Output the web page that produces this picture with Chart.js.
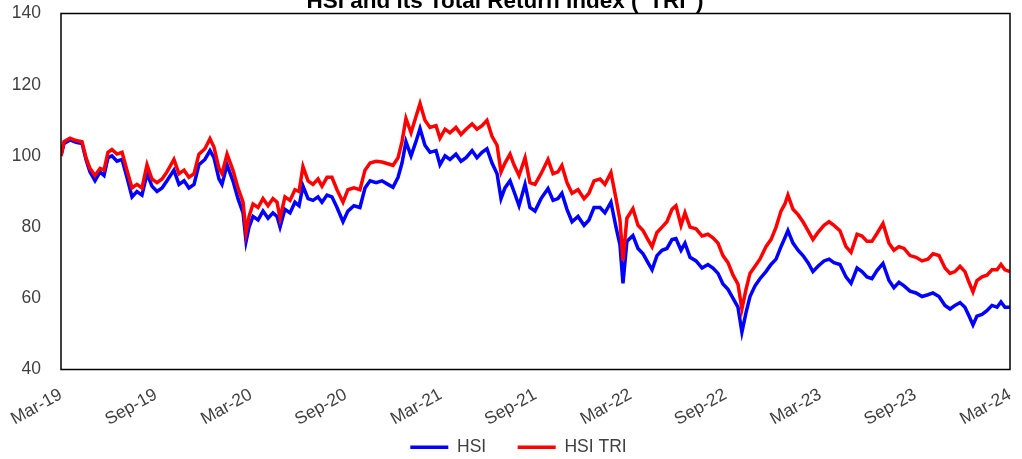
<!DOCTYPE html>
<html>
<head>
<meta charset="utf-8">
<title>HSI and its Total Return Index</title>
<script src="https://cdn.jsdelivr.net/npm/chart.js@4.4.1/dist/chart.umd.min.js"></script>
<style>
  html, body { margin: 0; padding: 0; background: #fff; overflow: hidden; }
  #wrap { position: relative; width: 1022px; height: 459px; overflow: hidden; }
  #chart { position: absolute; left: 0; top: -9px; }
</style>
</head>
<body>
<div id="wrap"><canvas id="chart" width="1022" height="475"></canvas></div>
<script>
// months since Mar-19
const monthIndex = [
  0, 0.19, 0.57, 0.95, 1.33, 1.58, 1.83, 2.15, 2.47, 2.72,
  2.97, 3.22, 3.54, 3.86, 4.17, 4.49, 4.80, 5.12, 5.44, 5.75,
  6.07, 6.39, 6.70, 7.14, 7.46, 7.78, 8.09, 8.41, 8.72, 9.10,
  9.42, 9.67, 9.99, 10.18, 10.50, 10.87, 11.19, 11.51, 11.70, 11.89,
  12.14, 12.46, 12.77, 13.09, 13.40, 13.66, 13.85, 14.16, 14.48, 14.79,
  15.05, 15.30, 15.62, 15.93, 16.25, 16.50, 16.82, 17.13, 17.45, 17.83,
  18.14, 18.52, 18.90, 19.22, 19.54, 19.92, 20.29, 20.67, 20.99, 21.31,
  21.56, 21.81, 22.13, 22.44, 22.70, 23.01, 23.33, 23.71, 23.96, 24.28,
  24.59, 24.97, 25.29, 25.61, 25.99, 26.30, 26.62, 26.93, 27.25, 27.57,
  27.82, 28.07, 28.39, 28.64, 28.96, 29.34, 29.65, 29.97, 30.35, 30.79,
  31.11, 31.42, 31.67, 31.99, 32.31, 32.69, 33.07, 33.38, 33.70, 34.08,
  34.39, 34.77, 35.09, 35.34, 35.53, 35.78, 36.16, 36.48, 36.80, 37.11,
  37.37, 37.68, 38.00, 38.31, 38.63, 38.88, 39.20, 39.45, 39.77, 40.15,
  40.53, 40.90, 41.22, 41.54, 41.85, 42.17, 42.49, 42.80, 43.05, 43.31,
  43.56, 43.88, 44.19, 44.57, 44.89, 45.21, 45.52, 45.77, 45.96, 46.28,
  46.60, 46.91, 47.23, 47.54, 47.86, 48.24, 48.56, 48.87, 49.25, 49.63,
  49.95, 50.33, 50.64, 50.96, 51.27, 51.59, 51.97, 52.35, 52.66, 52.98,
  53.30, 53.68, 54.06, 54.44, 54.81, 55.13, 55.51, 55.89, 56.21, 56.52,
  56.84, 57.15, 57.41, 57.66, 57.91, 58.23, 58.54, 58.86, 59.18, 59.43,
  59.68, 60.00
];

const hsiValues = [
  100, 103.5, 104.5, 103.8, 103.5, 99, 95.5, 93, 95.5, 94.5,
  99.5, 100, 98.5, 99, 94, 88.5, 90, 89, 95, 91.5,
  90, 91, 93, 96, 92, 93, 91, 92, 97.5, 99,
  101.5, 99.5, 93.5, 92, 97.5, 93, 88, 84, 76, 80,
  83, 82, 84.5, 82.5, 84, 83, 80, 85, 84, 87,
  86, 91.5, 88, 87.5, 88.5, 87, 89, 88.5, 85.5, 81.5,
  84.5, 86, 85.5, 91, 93, 92.5, 93, 92, 91.2, 94,
  98, 104, 100, 104, 107.7, 103, 101, 101.5, 97.5, 100,
  99, 100.5, 98.5, 99.5, 101.5, 99.5, 101, 102, 98, 95,
  88, 91, 93, 90, 86, 92, 85.5, 84.5, 88, 90.8,
  87.5, 88, 89.5, 85, 81.5, 83, 80.5, 82, 85.5, 85.5,
  84, 87, 80, 75, 64.2, 76, 77.6, 74, 72.5, 70,
  68, 72, 73.5, 74, 76.5, 76.8, 73.5, 75.5, 71.5, 70.5,
  68.5, 69.5, 68.5, 67, 64, 62.5, 60, 57.5, 50.5, 56,
  60.5, 63.5, 65.5, 67.5, 69.5, 71, 74.5, 77, 79, 75.5,
  73.5, 72, 70, 67.5, 69, 70.5, 71, 70, 69.5, 66,
  64.2, 68.5, 67.5, 66, 65.5, 67.8, 69.8, 65, 63, 64.5,
  63.5, 62, 61.5, 60.5, 61, 61.5, 60.5, 58, 57, 58,
  58.8, 57.5, 55, 52.5, 55, 55.5, 56.5, 58, 57.5, 59,
  57.5, 57.5
];

const triValues = [
  100, 104, 105, 104.3, 104, 99.5, 96.5, 94.5, 96.5, 96,
  101, 101.8, 100.5, 101, 96, 91, 92, 91, 97.5, 93.5,
  92.5, 93.5, 95.5, 99, 95, 96, 94, 95, 100.5, 102,
  104.8, 102.5, 96.5, 95, 100.5, 96, 91, 87, 78.5, 83,
  86.5, 85.5, 88, 86, 88, 87, 82.5, 88.5, 87.5, 90.5,
  90, 97, 93, 92, 93.5, 91.5, 94, 94, 90.5, 87,
  90.5, 91, 90.5, 96, 98, 98.5, 98.3, 97.8, 97.3, 99.5,
  104, 110.5, 106.5, 111, 114.7, 110, 108, 108.5, 105, 107.5,
  106.5, 108, 106, 107.5, 109, 107.5, 108.5, 110, 105.5, 103,
  95.5, 98, 100.5, 97.5, 94.5, 99.5, 92.5, 92, 95, 99,
  95, 95.5, 97.3, 92.5, 89.5, 90.5, 88, 89.5, 93, 93.5,
  92, 95.3, 88, 82, 70.6, 82.5, 85.2, 80.5, 79, 76.5,
  74.5, 78.5, 80, 81.5, 85, 86, 80.5, 84, 80, 79.5,
  77.5, 78, 77, 75.5, 72, 70, 66.5, 64, 57, 62.5,
  67, 69, 71, 74.5, 76.5, 80, 84.5, 86.5, 89, 85,
  83.5, 81.5, 79, 76.5, 78.5, 80.5, 81.5, 80.5, 79, 74.5,
  72.9, 78, 77.5, 76, 76, 78.2, 81, 75.5, 73.5, 74.5,
  74, 72, 71.5, 70.5, 71, 72.5, 72, 68.5, 67, 67.5,
  69, 67.5, 64.5, 61.8, 65, 66, 66.5, 68, 68, 69.5,
  68, 67.5
];

const tickLabels = ["Mar-19", "Sep-19", "Mar-20", "Sep-20", "Mar-21", "Sep-21", "Mar-22", "Sep-22", "Mar-23", "Sep-23", "Mar-24"];

const fontFamily = "'Liberation Sans', Arial, sans-serif";
const textColor = "#404040";

function toPoints(values) {
  return monthIndex.map((m, i) => ({ x: m, y: values[i] }));
}

// box round the plot area
const framePlugin = {
  id: "frame",
  afterDatasetsDraw(chart) {
    const { ctx, chartArea } = chart;
    ctx.save();
    ctx.strokeStyle = "#000";
    ctx.lineWidth = 1.5;
    ctx.strokeRect(chartArea.left, chartArea.top, chartArea.right - chartArea.left, chartArea.bottom - chartArea.top);
    ctx.restore();
  },
};

new Chart(document.getElementById("chart"), {
  type: "line",
  data: {
    datasets: [
      { label: "HSI", data: toPoints(hsiValues), borderColor: "#0000ff", backgroundColor: "#0000ff", borderWidth: 3.5, pointRadius: 0, order: 2 },
      { label: "HSI TRI", data: toPoints(triValues), borderColor: "#ff0000", backgroundColor: "#ff0000", borderWidth: 3.5, pointRadius: 0, order: 1 },
    ],
  },
  options: {
    responsive: false,
    animation: false,
    layout: { padding: { left: 0, right: 12, top: 0, bottom: 0 } },
    plugins: {
      title: {
        display: true,
        text: 'HSI and its Total Return Index ("TRI")',
        color: "#000",
        font: { family: fontFamily, size: 22.5, weight: "bold", lineHeight: 1 },
        padding: 0,
      },
      legend: {
        position: "bottom",
        fullSize: false,
        labels: {
          usePointStyle: true,
          pointStyle: "line",
          pointStyleWidth: 38,
          color: textColor,
          font: { family: fontFamily, size: 17.5 },
          padding: 12,
          sort: (a, b) => a.datasetIndex - b.datasetIndex,
          generateLabels: (chart) => {
            const items = Chart.defaults.plugins.legend.labels.generateLabels(chart);
            const lastIndex = chart.data.datasets.length - 1;
            // trailing blanks: wider gap between entries, block sits a bit left
            return items.map((item) => ({ ...item, text: item.text + (item.datasetIndex === lastIndex ? "       " : "    ") }));
          },
        },
      },
      tooltip: { enabled: false },
    },
    scales: {
      x: {
        type: "linear",
        min: 0,
        max: 60,
        grid: { display: false },
        border: { display: false },
        ticks: {
          stepSize: 6,
          autoSkip: false,
          minRotation: 29,
          maxRotation: 29,
          padding: 7,
          color: textColor,
          font: { family: fontFamily, size: 17.5 },
          callback: (value) => tickLabels[Math.round(value / 6)],
        },
        afterFit: (scale) => {
          scale.height = 57;
          scale.paddingLeft = 0;
          scale.paddingRight = 0;
        },
      },
      y: {
        min: 40,
        max: 140,
        grid: { display: false },
        border: { display: false },
        ticks: { stepSize: 20, padding: 12, color: textColor, font: { family: fontFamily, size: 17.5 } },
        afterFit: (scale) => {
          scale.width = 61;
          scale.paddingTop = 0;
          scale.paddingBottom = 0;
        },
      },
    },
  },
  plugins: [framePlugin],
});
</script>
</body>
</html>
